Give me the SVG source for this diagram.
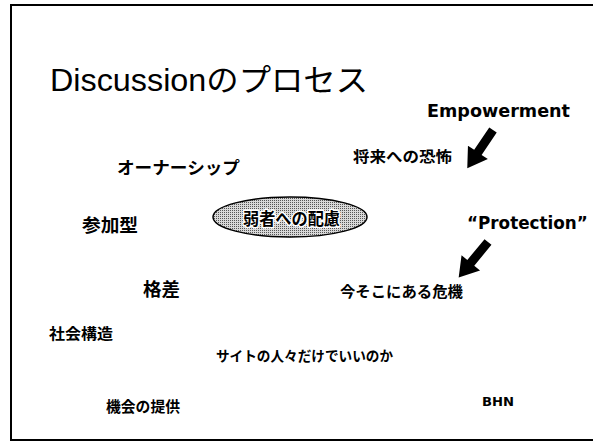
<svg xmlns="http://www.w3.org/2000/svg" width="593" height="443" viewBox="0 0 593 443">
<style>
.jp{font-family:"Noto Sans CJK JP","Noto Sans CJK SC",sans-serif;font-weight:700;fill:#000}
.en{font-family:"DejaVu Sans","Liberation Sans",sans-serif;font-weight:700;fill:#000}
.arrow{fill:#000}
</style>
<defs>
<pattern id="dots" width="2" height="2" patternUnits="userSpaceOnUse">
<rect width="2" height="2" fill="#d8d8d8"/>
<rect width="1" height="1" fill="#555"/>
</pattern>
<polygon id="arr" points="0,-4.5 27,-4.5 27,-12 46,0 27,12 27,4.5 0,4.5"/>
</defs>
<rect width="593" height="443" fill="#fff"/>
<rect id="frame" x="11" y="5" width="600" height="435" fill="none" stroke="#000" stroke-width="2"/>
<g id="title"><text x="50" y="91" font-family="Liberation Sans,Noto Sans CJK JP,sans-serif" font-size="31" textLength="318" lengthAdjust="spacingAndGlyphs">Discussion<tspan font-family="Noto Sans CJK JP,sans-serif">のプロセス</tspan></text></g>
<g id="empowerment"><text class="en" x="427" y="117" font-size="18" textLength="143" lengthAdjust="spacingAndGlyphs">Empowerment</text></g>
<g id="protection"><text class="en" x="467" y="229" font-size="16.8">“Protection”</text></g>
<g id="connectors">
<use href="#arr" class="arrow" transform="translate(493,130) rotate(124)"/>
<use href="#arr" class="arrow" transform="translate(488,242) rotate(129.6)"/>
</g>
<g id="shourai"><text class="jp" x="353" y="162" font-size="15" textLength="99" lengthAdjust="spacingAndGlyphs">将来への恐怖</text></g>
<g id="imasoko"><text class="jp" x="340" y="297" font-size="15" textLength="123" lengthAdjust="spacingAndGlyphs">今そこにある危機</text></g>
<g id="center">
<ellipse cx="290" cy="217" rx="77" ry="20" fill="url(#dots)" stroke="#000" stroke-width="1.5"/>
<text class="jp" x="243" y="225" font-size="17" textLength="97" lengthAdjust="spacingAndGlyphs" stroke="#fff" stroke-width="3" paint-order="stroke" stroke-linejoin="round">弱者への配慮</text>
</g>
<g id="ownership"><text class="jp" x="117" y="174" font-size="17" textLength="123" lengthAdjust="spacingAndGlyphs">オーナーシップ</text></g>
<g id="sankagata"><text class="jp" x="82" y="232" font-size="18" textLength="56" lengthAdjust="spacingAndGlyphs">参加型</text></g>
<g id="kakusa"><text class="jp" x="143" y="296" font-size="18" textLength="37" lengthAdjust="spacingAndGlyphs">格差</text></g>
<g id="shakai"><text class="jp" x="49" y="339" font-size="15" textLength="64" lengthAdjust="spacingAndGlyphs">社会構造</text></g>
<g id="site"><text class="jp" x="216" y="361" font-size="14" textLength="177" lengthAdjust="spacingAndGlyphs">サイトの人々だけでいいのか</text></g>
<g id="kikai"><text class="jp" x="106" y="412" font-size="15" textLength="74" lengthAdjust="spacingAndGlyphs">機会の提供</text></g>
<g id="bhn"><text class="en" x="482" y="406" font-size="13" textLength="32" lengthAdjust="spacingAndGlyphs">BHN</text></g>
</svg>
